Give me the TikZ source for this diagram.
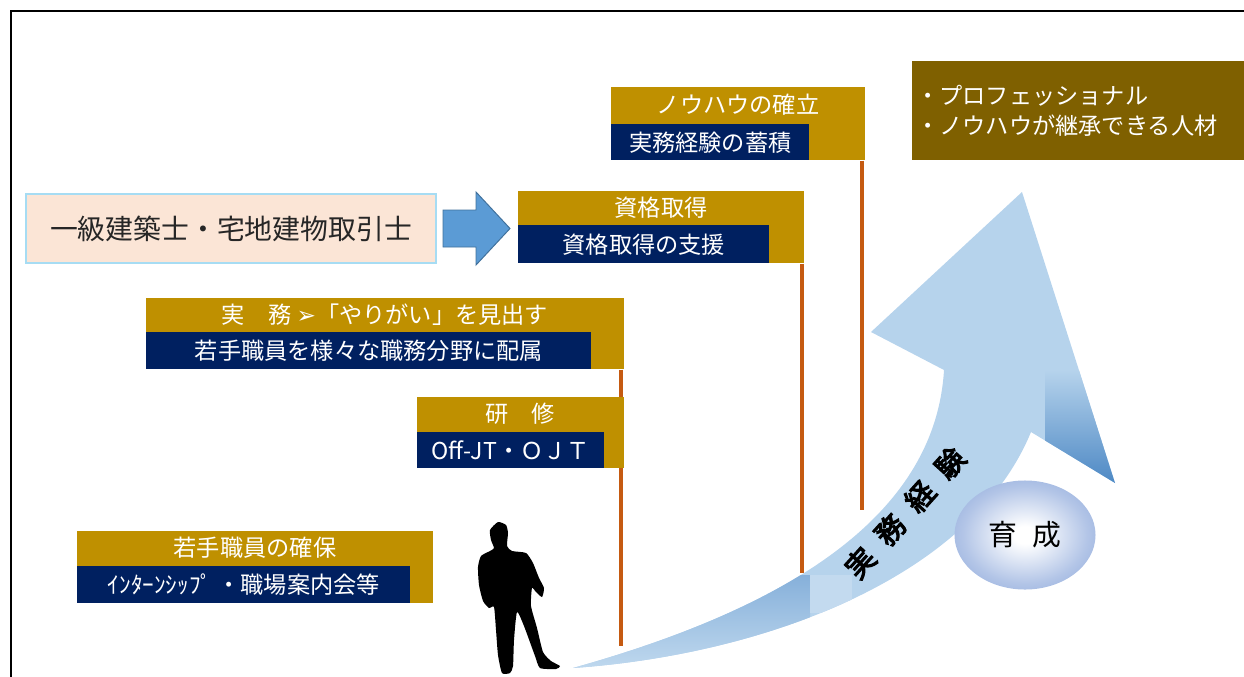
\documentclass[tikz,border=0pt]{standalone}
\usepackage{fontspec}
\setmainfont{Noto Sans CJK JP}
\newfontfamily\dingfont{DejaVu Sans}
\newfontfamily\heavyfont[FakeBold=4]{Noto Sans CJK JP}
\usetikzlibrary{calc,shapes.geometric,backgrounds}

\definecolor{titlegold}{HTML}{BF9000}
\definecolor{subnavy}{HTML}{002060}
\definecolor{stemorange}{HTML}{C55A11}
\definecolor{goalbrown}{HTML}{7F6000}
\definecolor{peach}{HTML}{FBE5D6}
\definecolor{glowblue}{HTML}{A6DCF3}
\definecolor{arrowblue}{HTML}{5B9BD5}
\definecolor{arrowedge}{HTML}{41719C}
\definecolor{sky}{HTML}{B6D3EC}
\definecolor{skylight}{HTML}{C3DAEF}
\definecolor{tailblue}{HTML}{86B0DA}
\definecolor{skydark}{HTML}{4A86C3}
\definecolor{ovalblue}{HTML}{8AA6DA}

\newcommand\stepfont{\fontsize{16.5}{20}\selectfont}
\newcommand\goalfont{\fontsize{16.5}{21.3}\selectfont}
\newcommand\licensefont{\fontsize{19.8}{24}\selectfont}
\newcommand\growfont{\fontsize{20.5}{24}\selectfont}

\pgfdeclareradialshading{ovalshade}{\pgfpoint{0bp}{0bp}}{color(0bp)=(white); color(4bp)=(white); color(22bp)=(ovalblue!65!white); color(35bp)=(ovalblue); color(50bp)=(ovalblue)}

\begin{document}
\begin{tikzpicture}[x=0.025cm,y=-0.025cm,
    goldbox/.style={fill=titlegold, inner sep=0, anchor=north west},
    navybox/.style={fill=subnavy, text=white, inner sep=0, anchor=south west, font=\stepfont},
    titletext/.style={text=white, inner sep=0, font=\stepfont},
    stem/.style={draw=stemorange, line width=2.6pt}]
    \useasboundingbox (0,0) rectangle (1244,677);
    \draw[line width=1.4pt] (1244,11) -- (11,11) -- (11,677);

    \node[goldbox, minimum width=6.35cm, minimum height=1.825cm] (knowhow) at (611,87) {};
    \node[navybox, minimum width=4.95cm, minimum height=0.9cm] (knowhowsub) at (knowhow.south west) {実務経験の蓄積};
    \node[titletext] (knowhowtitle) at (738,105) {ノウハウの確立};

    \node[goldbox, minimum width=7.15cm, minimum height=1.8cm] (license) at (518,191) {};
    \node[navybox, minimum width=6.275cm, minimum height=0.95cm] (licensesub) at (license.south west) {資格取得の支援};
    \node[titletext] (licensetitle) at (661,208) {資格取得};

    \node[goldbox, minimum width=11.95cm, minimum height=1.775cm] (practice) at (146,298) {};
    \node[navybox, minimum width=11.125cm, minimum height=0.925cm] (practicesub) at (practice.south west) {若手職員を様々な職務分野に配属};
    \node[titletext] (practicetitle) at (385,315) {実　務 {\dingfont ➢}「やりがい」を見出す};

    \node[goldbox, minimum width=5.175cm, minimum height=1.775cm] (training) at (417,397) {};
    \node[navybox, minimum width=4.675cm, minimum height=0.9cm] (trainingsub) at (training.south west) {Off-JT・ＯＪＴ};
    \node[titletext] (trainingtitle) at (520,414) {研　修};

    \node[goldbox, minimum width=8.9cm, minimum height=1.8cm] (recruit) at (77,531) {};
    \node[navybox, minimum width=8.325cm, minimum height=0.925cm] (recruitsub) at (recruit.south west) {ｲﾝﾀｰﾝｼｯﾌﾟ\ ・職場案内会等};
    \node[titletext] (recruittitle) at (255,548) {若手職員の確保};

    \begin{scope}[on background layer]
        \coordinate (knowhowend) at (862,510);
        \coordinate (licenseend) at (802,573);
        \coordinate (practiceend) at (621,646);
        \draw[stem] (knowhowend |- knowhow.south) -- (knowhowend);
        \draw[stem] (licenseend |- license.south) -- (licenseend);
        \draw[stem] (practiceend |- practice.south) -- (practiceend);
    \end{scope}

    \node[draw=glowblue, line width=1.6pt, fill=peach, inner sep=0, minimum width=10.25cm, minimum height=1.725cm,
        font=\licensefont, text=black!85] (qualify) at (231,228.5) {一級建築士・宅地建物取引士};
    \draw[draw=arrowedge, fill=arrowblue, line width=0.7pt]
        (443,210) -- (476,210) -- (476,192) -- (510,228.5) -- (476,265) -- (476,247) -- (443,247) -- cycle;

    \node[fill=goalbrown, text=white, anchor=north west, minimum width=8.3cm, minimum height=2.475cm,
        text width=8.1cm, inner xsep=0.1cm, inner ysep=0, align=left, font=\goalfont] (goal) at (912,61)
        {・プロフェッショナル\\・ノウハウが継承できる人材};

    \begin{scope}
        \clip (573,668) .. controls (760,655) and (970,580) .. (1031,432)
            -- (1115,483) -- (1022,192) -- (871,332) -- (944,370)
            .. controls (935,520) and (780,610) .. (573,668) -- cycle;
        \fill[sky] (560,180) rectangle (1130,680);
        \shade[top color=tailblue, bottom color=sky!85!white] (565,575) rectangle (810,672);
        \fill[skylight] (810,575) rectangle (852,613);
        \shade[top color=sky, bottom color=skydark] (1045,370) rectangle (1125,487);
    \end{scope}
    \node[rotate=48, font=\heavyfont\growfont, inner sep=0] (career) at (905,513)
        {実\hspace{0.55em}務\hspace{0.55em}経\hspace{0.55em}験};

    \node[ellipse, shading=ovalshade, minimum width=3.525cm, minimum height=2.725cm, font=\growfont] (growth) at (1025,535)
        {育\hspace{0.55em}成};

    \fill[black] plot[smooth cycle, tension=0.35] coordinates {
        (498,522) (506,525) (508,533) (507,546) (512,551) (526,553) (533,563) (539,578)
        (544,588) (542,597) (536,592) (532,588) (531,606) (537,628) (543,652) (551,661)
        (560,666) (556,669) (540,668) (535,656) (524,626) (517,612) (514,640) (513,666)
        (510,673) (502,673) (498,655) (496,630) (494,607) (489,608) (483,601) (479,585)
        (478,567) (481,556) (490,551) (494,548) (491,540) (490,530)};
\end{tikzpicture}
\end{document}
